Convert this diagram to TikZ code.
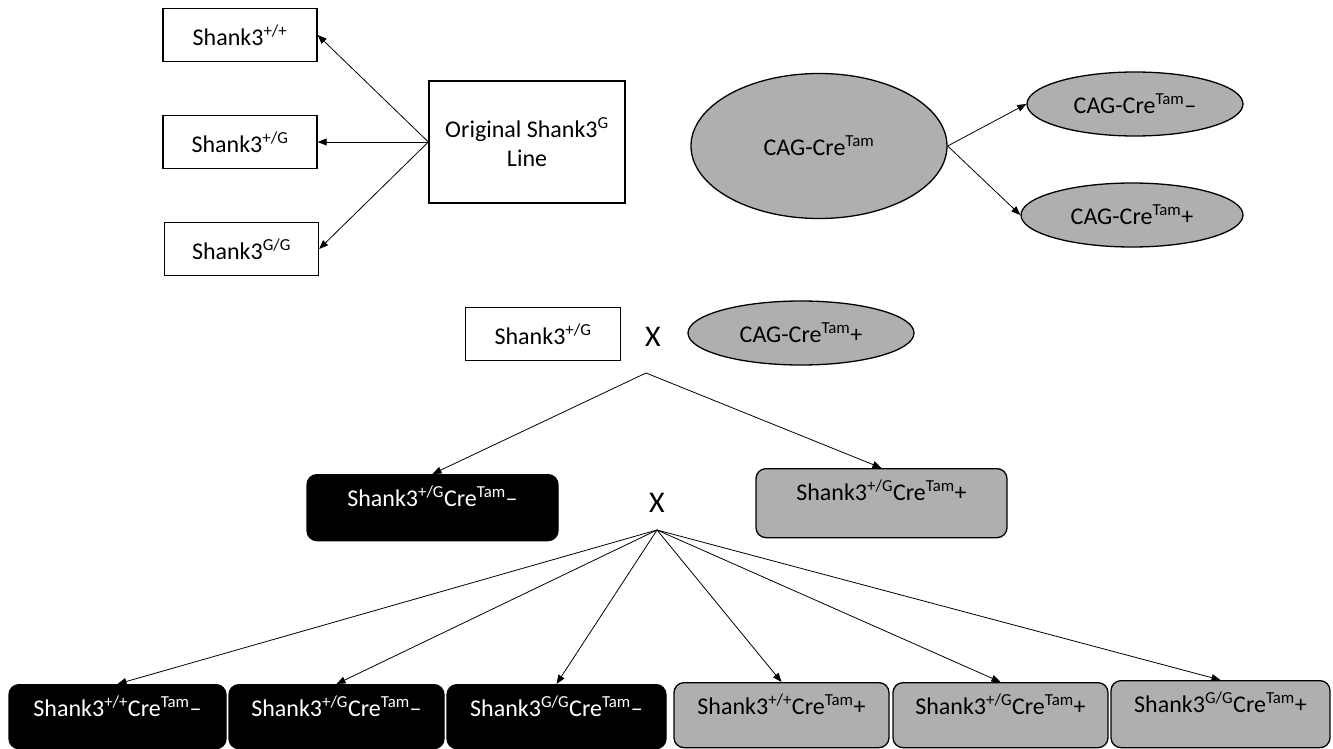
\documentclass[tikz,border=0pt]{standalone}
\usepackage{fontspec}
\setmainfont{Carlito}
\usetikzlibrary{arrows.meta,shapes.geometric}
\definecolor{cellgray}{RGB}{175,175,175}
\tikzset{every picture/.style={line width=1pt}}
\tikzset{
  genobox/.style={draw, line width=1.3pt, inner sep=0pt, minimum width=154pt, minimum height=53pt, font=\fontsize{24}{29}\selectfont},
  creell/.style={ellipse, draw, fill=cellgray, line width=1.3pt, inner sep=0pt, font=\fontsize{24}{29}\selectfont},
  litter/.style={draw, rounded corners=10pt, line width=1.3pt, anchor=north, inner xsep=0pt, inner ysep=6pt, text height=26pt, text depth=28pt, font=\fontsize{24}{29}\selectfont},
  crem/.style={litter, fill=black, text=white},
  crep/.style={litter, fill=cellgray},
  cross/.style={font=\fontsize{30}{36}\selectfont, inner sep=0pt},
  tipline/.style={-{Triangle[length=9pt,width=7pt]}, line width=0.8pt},
}

\begin{document}
\begin{tikzpicture}[x=1pt,y=1pt,yscale=-1,xscale=1]
\useasboundingbox (0,0) rectangle (1333,749);

%Shape: Rectangle [genotypes of the original line]
\node[genobox] (pp) at (240,35) {Shank3\textsuperscript{+/+}};
\node[genobox] (pg) at (240,142) {Shank3\textsuperscript{+/G}};
\node[genobox] (gg) at (241.5,249) {Shank3\textsuperscript{G/G}};
\node[genobox, minimum width=196pt, minimum height=122pt, align=center] (orig) at (527,142) {Original Shank3\textsuperscript{G}\\Line};

%Shape: Ellipse [Cre line]
\node[creell, minimum width=256pt, minimum height=145pt] (cag) at (819,146) {CAG-Cre\textsuperscript{Tam}};
\node[creell, minimum width=216pt, minimum height=64pt] (cagm) at (1135,104) {CAG-Cre\textsuperscript{Tam}–};
\node[creell, minimum width=222pt, minimum height=64pt] (cagp) at (1132,215) {CAG-Cre\textsuperscript{Tam}+};

%Straight Lines
\draw[tipline] (orig.west) -- (pp.east);
\draw[tipline] (orig.west) -- (pg.east);
\draw[tipline] (orig.west) -- (gg.east);
\draw[tipline] (cag.east) -- (cagm.west);
\draw[tipline] (cag.east) -- (cagp.west);

% First cross
\node[genobox, minimum width=155pt] (het) at (543,334) {Shank3\textsuperscript{+/G}};
\node[cross] (xa) at (653,337) {X};
\node[creell, minimum width=226pt, minimum height=64pt] (cre) at (801,333) {CAG-Cre\textsuperscript{Tam}+};
\coordinate (apexa) at (646,373);

%Shape: Rounded Rectangle [F1]
\node[crem, minimum width=251pt] (hetm) at (432.5,474) {Shank3\textsuperscript{+/G}Cre\textsuperscript{Tam}–};
\node[crep, minimum width=251pt, text depth=31pt] (hetp) at (881.5,468) {Shank3\textsuperscript{+/G}Cre\textsuperscript{Tam}+};
\draw[tipline] (apexa) -- (hetm.north);
\draw[tipline] (apexa) -- (hetp.north);

% Second cross
\node[cross] (xb) at (657,503) {X};
\coordinate (apexb) at (657,530);

%Shape: Rounded Rectangle [F2]
\node[crem, minimum width=217pt, text depth=26pt] (ppm) at (117.5,684) {Shank3\textsuperscript{+/+}Cre\textsuperscript{Tam}–};
\node[crem, minimum width=215pt, text depth=26pt] (pgm) at (336.5,684) {Shank3\textsuperscript{+/G}Cre\textsuperscript{Tam}–};
\node[crem, minimum width=219pt, text depth=26pt] (ggm) at (556.5,684) {Shank3\textsuperscript{G/G}Cre\textsuperscript{Tam}–};
\node[crep, minimum width=215pt, text depth=27pt] (ppp) at (781.5,682) {Shank3\textsuperscript{+/+}Cre\textsuperscript{Tam}+};
\node[crep, minimum width=215pt, text depth=27pt] (pgp) at (1000.5,682) {Shank3\textsuperscript{+/G}Cre\textsuperscript{Tam}+};
\node[crep, minimum width=219pt, text depth=29pt] (ggp) at (1220.5,680) {Shank3\textsuperscript{G/G}Cre\textsuperscript{Tam}+};
\foreach \n in {ppm,pgm,ggm,ppp,pgp,ggp}
  \draw[tipline] (apexb) -- (\n.north);

\end{tikzpicture}
\end{document}
